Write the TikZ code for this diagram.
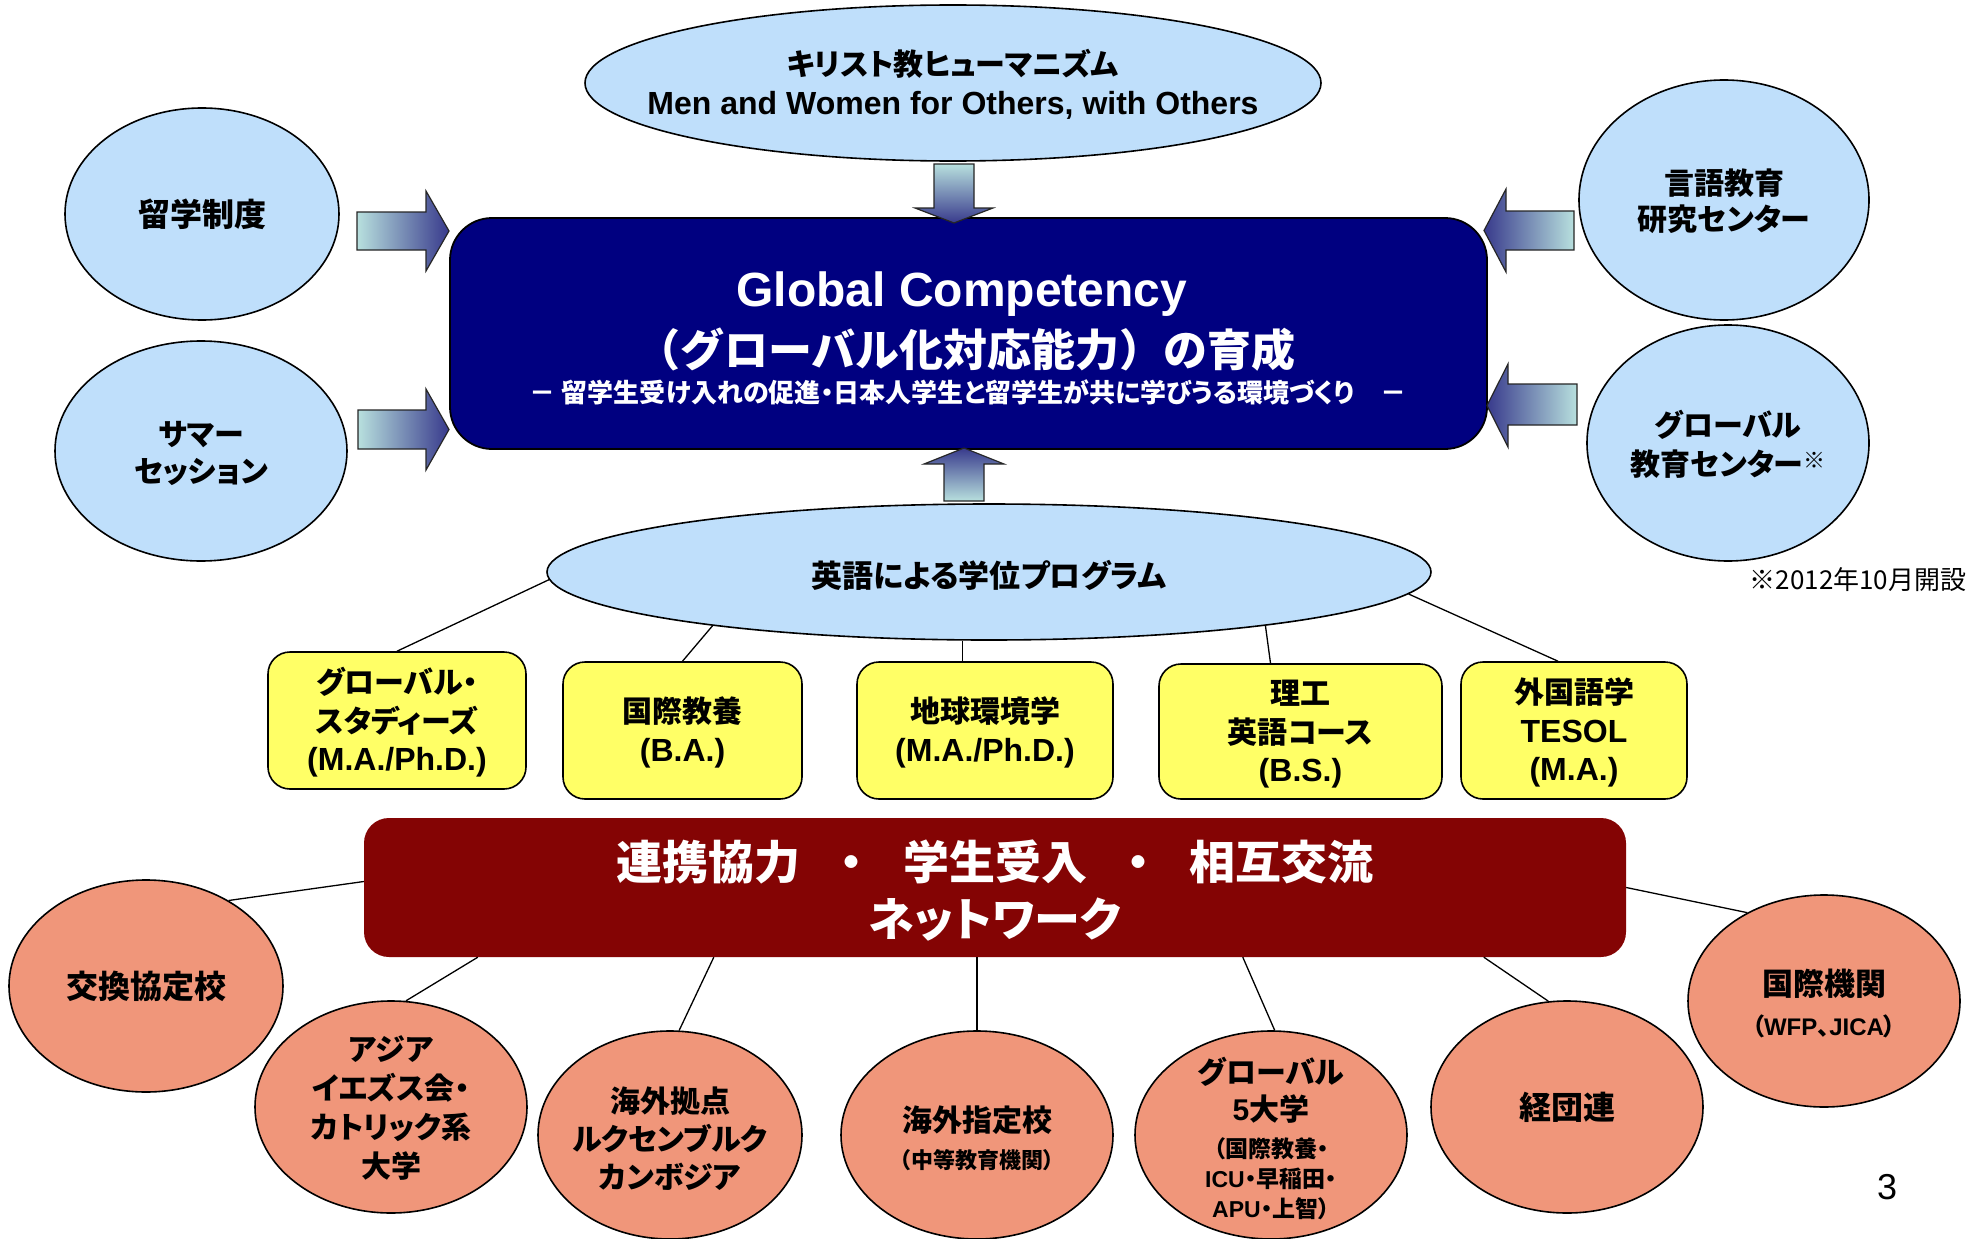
\documentclass[tikz,border=0pt]{standalone}
\usepackage{fontspec}
\setmainfont{Liberation Sans}
\newfontfamily\jp{Noto Sans CJK JP}[RawFeature=+palt]
\newfontfamily\jpw{Noto Sans CJK JP}
\newfontfamily\latf{Liberation Sans}
\newcommand\lat[1]{{\latf #1}}
\newcommand\fs[2]{\fontsize{#1}{#2}\selectfont}
\newcommand\tup{\rule{0pt}{30pt}}
\usetikzlibrary{shapes.geometric}
\definecolor{lblue}{RGB}{191,223,251}
\definecolor{navybox}{RGB}{0,0,128}
\definecolor{ybox}{RGB}{255,255,102}
\definecolor{redbox}{RGB}{132,4,4}
\definecolor{salmon}{RGB}{240,150,122}
\definecolor{arlight}{RGB}{184,224,222}
\definecolor{ardark}{RGB}{56,58,140}
\tikzset{
  bell/.style={ellipse, draw=black, line width=1.6pt, fill=lblue, inner sep=0pt},
  sell/.style={ellipse, draw=black, line width=1.6pt, fill=salmon, inner sep=0pt},
  mainbox/.style={rectangle, rounded corners=42pt, draw=black, line width=1.8pt, fill=navybox},
  yb/.style={rectangle, rounded corners=22pt, draw=black, line width=1.6pt, fill=ybox, align=center, inner sep=0pt, font={\jp\bfseries\fs{30}{38.5}}},
  netbox/.style={rectangle, rounded corners=25pt, fill=redbox, align=center, inner sep=0pt, text=white, font={\jp\bfseries\fs{46}{57}}},
  tx/.style={inner sep=0pt, align=center, font={\jp\bfseries\fs{30}{37}}},
  con/.style={draw=black, line width=1.3pt},
  blk/.style={draw=black!85, line width=1.2pt}
}
\begin{document}
\begin{tikzpicture}[x=1pt,y=-1pt]
\fill[white] (0,0) rectangle (1976,1239);
\useasboundingbox (0,0) rectangle (1976,1239);

% ---- blue ellipses
\node[bell, minimum width=736, minimum height=156] (hum) at (953,83) {};
\node[bell, minimum width=274, minimum height=212] (ryu) at (202,214) {};
\node[bell, minimum width=292, minimum height=220] (sum) at (201,451) {};
\node[bell, minimum width=290, minimum height=240] (gen) at (1724,200) {};
\node[bell, minimum width=282, minimum height=236] (glo) at (1728,443) {};

% ---- degree programme boxes
\node[yb, minimum width=258, minimum height=137] (b1) at (397,720.5) {\tup グローバル・\\スタディーズ\\{\latf\fs{32}{38.5}(M.A./Ph.D.)}};
\node[yb, minimum width=239, minimum height=137] (b2) at (682.5,730.5) {\tup 国際教養\\{\latf\fs{32}{38.5}(B.A.)}};
\node[yb, minimum width=256, minimum height=137] (b3) at (985,730.5) {\tup 地球環境学\\{\latf\fs{32}{38.5}(M.A./Ph.D.)}};
\node[yb, minimum width=283, minimum height=135] (b4) at (1300.5,731.5) {\tup 理工\\英語コース\\{\latf\fs{32}{38.5}(B.S.)}};
\node[yb, minimum width=226, minimum height=137] (b5) at (1574,730.5) {\tup 外国語学\\{\latf\fs{32}{38.5}TESOL}\\{\latf\fs{32}{38.5}(M.A.)}};

\node[bell, minimum width=884, minimum height=136] (eng) at (989,572) {};
\draw[con] (eng.181) -- (b1.north);
\draw[con] (eng.191) -- (b2.north);
\draw[con] (eng.249) -- (eng.249 |- b3.north);
\draw[con] (eng.349) -- ([xshift=-30pt]b4.north);
\draw[con] (eng.357) -- ([xshift=-16pt]b5.north);

% ---- main box
\node[mainbox, minimum width=1037, minimum height=231] (gc) at (968.5,333.5) {};

% ---- network box and circles
\node[netbox, minimum width=1262, minimum height=139] (net) at (995,887.5) {\rule{0pt}{46pt}連携協力\hspace{40pt}・\hspace{40pt}学生受入\hspace{40pt}・\hspace{40pt}相互交流\\ネットワーク};
\node[sell, minimum width=274, minimum height=212] (c1) at (146,986) {};
\node[sell, minimum width=272, minimum height=212] (c2) at (391,1107) {};
\node[sell, minimum width=264, minimum height=208] (c3) at (670,1135) {};
\node[sell, minimum width=272, minimum height=208] (c4) at (977,1135) {};
\node[sell, minimum width=272, minimum height=208] (c5) at (1271,1135) {};
\node[sell, minimum width=272, minimum height=212] (c6) at (1567,1107) {};
\node[sell, minimum width=272, minimum height=212] (c7) at (1824,1001) {};
\draw[con] ([yshift=6pt]net.west) -- (c1.46);
\draw[con] ([xshift=114pt]net.south west) -- (c2.82);
\draw[con] ([xshift=350pt]net.south west) -- (c3.85);
\draw[con] (c4.north) -- (c4.north |- net.south);
\draw[con] ([xshift=879pt]net.south west) -- (c5.88);
\draw[con] ([xshift=1120pt]net.south west) -- (c6.100);
\draw[con] (net.east) -- (c7.131);

% ---- block arrows
\shadedraw[blk, top color=arlight, bottom color=ardark] (934,164) -- (974,164) -- (974,208) -- (993,208) -- (954,223) -- (915,208) -- (934,208) -- cycle;
\shadedraw[blk, top color=ardark, bottom color=arlight] (944,501) -- (984,501) -- (984,464) -- (1004,464) -- (964,448) -- (924,464) -- (944,464) -- cycle;
\shadedraw[blk, left color=arlight, right color=ardark] (357,212) -- (426,212) -- (426,191) -- (449,231) -- (426,271) -- (426,250) -- (357,250) -- cycle;
\shadedraw[blk, left color=arlight, right color=ardark] (358,410) -- (426,410) -- (426,389) -- (449,429.5) -- (426,470) -- (426,449) -- (358,449) -- cycle;
\shadedraw[blk, left color=ardark, right color=arlight] (1574,211) -- (1506,211) -- (1506,189) -- (1484,230.5) -- (1506,272) -- (1506,250) -- (1574,250) -- cycle;
\shadedraw[blk, left color=ardark, right color=arlight] (1577,384) -- (1508,384) -- (1508,364) -- (1487,405.5) -- (1508,447) -- (1508,425) -- (1577,425) -- cycle;

% ---- texts
\node[tx, font={\jp\bfseries\fs{30}{39}}] (humT) at (953,84) {キリスト教ヒューマニズム\\{\latf\fs{32}{39}Men and Women for Others, with Others}};
\node[tx, font={\jp\bfseries\fs{32}{37}}] (ryuT) at (ryu) {留学制度};
\node[tx] (sumT) at (201,453) {サマー\\セッション};
\node[tx, font={\jp\bfseries\fs{30}{36}}] (genT) at (1724,201) {言語教育\\研究センター};
\node[tx, font={\jp\bfseries\fs{30}{39}}] (gloT) at (1728,444) {グローバル\\教育センター{\fs{22}{39}\raisebox{7pt}{※}}};
\node[tx, font={\jp\bfseries\fs{31}{37}}] (engT) at (989,575) {英語による学位プログラム};
\node[tx, text=white, font={\latf\bfseries\fs{48}{52}}] (gc1) at (962,294) {Global Competency};
\node[tx, text=white, font={\jpw\bfseries\fs{44}{50}}] (gc2) at (966,350) {（グローバル化対応能力）の育成};
\node[tx, text=white, font={\jp\bfseries\fs{26}{30}}] (gc3) at (968,392) {－ 留学生受け入れの促進・日本人学生と留学生が共に学びうる環境づくり　－};
\node[tx, font={\jp\fs{26}{30}}] (noteT) at (1858,580) {※2012年10月開設};

\node[tx, font={\jp\bfseries\fs{32}{37}}] (c1T) at (c1) {交換協定校};
\node[tx, font={\jp\bfseries\fs{30}{39}}] (c2T) at (391,1108) {アジア\\イエズス会・\\カトリック系\\大学};
\node[tx, font={\jp\bfseries\fs{30}{38}}] (c3T) at (670,1139) {海外拠点\\ルクセンブルク\\カンボジア};
\node[tx] (c4T) at (977,1138) {海外指定校\\{\fs{22}{37}（中等教育機関）}};
\node[tx] (c5T) at (1271,1139) {グローバル\\\lat{5}大学\\{\fs{23}{30}（国際教養・}\\[-7pt]{\fs{23}{30}\lat{ICU}・早稲田・}\\[-7pt]{\fs{23}{30}\lat{APU}・上智）}};
\node[tx, font={\jp\bfseries\fs{32}{37}}] (c6T) at (c6) {経団連};
\node[tx, font={\jp\bfseries\fs{31}{40}}] (c7T) at (1824,1003) {国際機関\\{\fs{24}{40}（\lat{WFP}、\lat{JICA}）}};
\node[tx, font={\latf\fs{36}{40}}] (pg) at (1887,1187) {3};
\end{tikzpicture}
\end{document}
